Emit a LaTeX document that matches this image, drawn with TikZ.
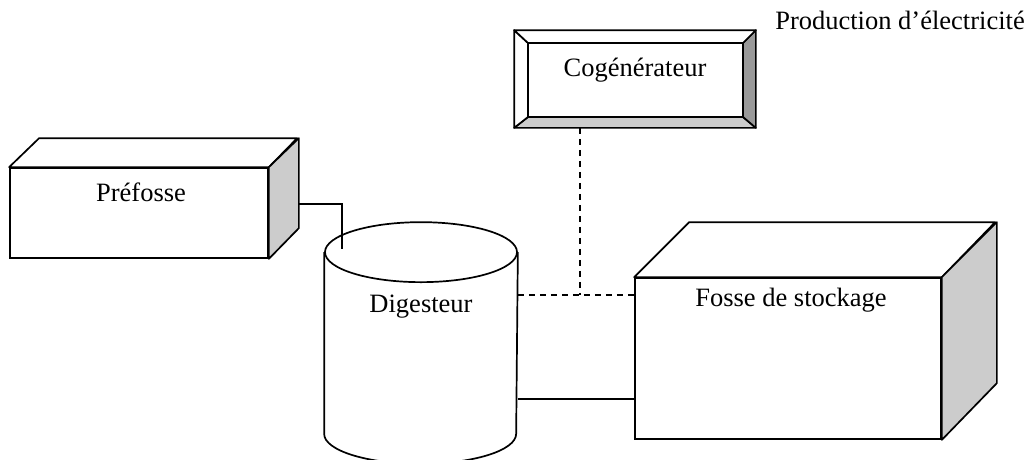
\documentclass[tikz,border=0pt]{standalone}
\usepackage{fontspec}
\setmainfont{Liberation Serif}
\usepackage{tikz}
\usetikzlibrary{positioning,calc}

\begin{document}
\begin{tikzpicture}[
            x=1pt,y=-1pt,
            line width=1.7pt,
            box/.style={draw,fill=white,inner sep=0pt},
            face/.style={draw,fill=white,line join=round},
            shade/.style={draw,fill=gray!40,line join=round},
            dark/.style={draw,fill=gray!80,line join=round},
            lbl/.style={font=\fontsize{26.5}{30}\selectfont,inner sep=0pt},
            link/.style={line width=1.5pt},
            gaz/.style={line width=1.5pt,dash pattern=on 6pt off 5pt}
        ]
        \useasboundingbox (0,0) rectangle (1033,459);

        % Draw prefosse %
        \node[box,minimum width=258pt,minimum height=90pt] (prefosse) at (139,213) {};
        \draw[face] (prefosse.north west) -- ++(30,-29) -- ++(258,0) -- (prefosse.north east) -- cycle;
        \draw[shade] (prefosse.north east) -- ++(30,-29) -- ++(0,90) -- (prefosse.south east) -- cycle;
        \coordinate (prefosse side) at ($(prefosse.east)+(30,-9)$);
        \node[lbl] (prefosse text) at (141,192) {Préfosse};

        % Draw digesteur %
        \node[minimum width=192pt,minimum height=180pt,inner sep=0pt] (digesteur) at (421,343) {};
        \draw (digesteur.north west) -- (digesteur.south west)
              arc[start angle=180,end angle=360,x radius=96pt,y radius=30pt]
              -- (digesteur.north east);
        \draw (digesteur.north) ellipse[x radius=96pt,y radius=30pt];
        \coordinate (digesteur top) at (342,249);
        \node[lbl] (digesteur text) at (421,307) {Digesteur};

        % Draw cogenerateur %
        \node[box,minimum width=240pt,minimum height=96pt] (cogen) at (635,79) {};
        \coordinate (cogen in nw) at (528,43);
        \coordinate (cogen in ne) at (743,43);
        \coordinate (cogen in se) at (743,117);
        \coordinate (cogen in sw) at (528,117);
        \draw[shade] (cogen.south west) -- (cogen in sw) -- (cogen in se) -- (cogen.south east) -- cycle;
        \draw[dark] (cogen.north east) -- (cogen in ne) -- (cogen in se) -- (cogen.south east) -- cycle;
        \draw[face] (cogen.north west) -- (cogen in nw) -- (cogen in sw) -- (cogen.south west) -- cycle;
        \draw[face] (cogen.north west) -- (cogen in nw) -- (cogen in ne) -- (cogen.north east) -- cycle;
        \draw (cogen in nw) rectangle (cogen in se);
        \node[lbl] (cogen text) at (635,70) {Cogénérateur};
        \node[lbl] (elec) at (900,20) {Production d’électricité};

        % Draw fosse de stockage %
        \node[box,minimum width=306pt,minimum height=161pt] (fosse) at (788,358.5) {};
        \draw[face] (fosse.north west) -- ++(55,-55) -- ++(306,0) -- (fosse.north east) -- cycle;
        \draw[shade] (fosse.north east) -- ++(55,-55) -- ++(0,161) -- (fosse.south east) -- cycle;
        \node[lbl] (fosse text) at (791,300) {Fosse de stockage};

        % Draw links %
        \draw[link] (prefosse side) -| (digesteur top);
        \draw[link] (digesteur.east |- 0,399) -- (fosse.west |- 0,399);
        \coordinate (gaz node) at (580,295);
        \draw[gaz] (digesteur.east |- gaz node) -- (fosse.west |- gaz node);
        \draw[gaz] (cogen.south -| gaz node) -- (gaz node);
        \end{tikzpicture}
\end{document}
